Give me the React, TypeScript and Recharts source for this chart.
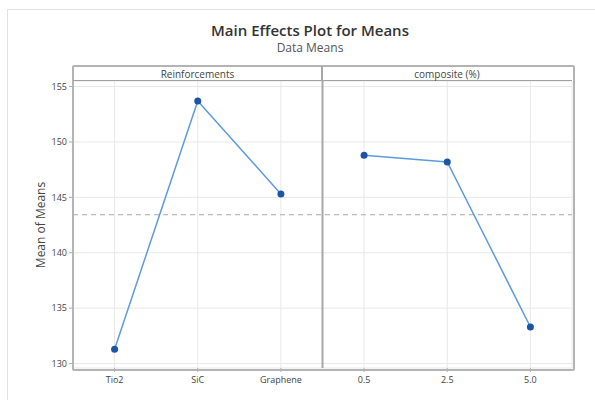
import { CartesianGrid, Line, LineChart, ReferenceLine, XAxis, YAxis } from 'recharts'

const categories = ['Tio2', 'SiC', 'Graphene', '0.5', '2.5', '5.0']
const reinforcementMeans = [131.3, 153.7, 145.3]
const compositeMeans = [148.8, 148.2, 133.3]
const yTicks = [130, 135, 140, 145, 150, 155]
const overallMean = 143.43

const data = categories.map((label, index) => ({
  x: index,
  label,
  reinforcements: index < 3 ? reinforcementMeans[index] : null,
  composite: index >= 3 ? compositeMeans[index - 3] : null,
}))

const font = '"Open Sans", "Noto Sans", sans-serif'
const lineColor = '#5f9bdc'
const dotColor = '#1c55a6'

export default function App() {
  return (
    <div
      style={{
        position: 'absolute',
        left: 0,
        top: 0,
        width: 595,
        height: 400,
        background: '#fff',
        overflow: 'hidden',
        fontFamily: font,
      }}
    >
      <div
        style={{
          position: 'absolute',
          left: 7,
          top: 9,
          width: 620,
          height: 420,
          border: '1px solid #e2e2e2',
        }}
      />
      <div
        style={{
          position: 'absolute',
          left: 0,
          width: 620,
          top: 20,
          textAlign: 'center',
          fontSize: 15,
          fontWeight: 600,
          color: '#333',
        }}
      >
        Main Effects Plot for Means
      </div>
      <div
        style={{
          position: 'absolute',
          left: 0,
          width: 620,
          top: 39,
          textAlign: 'center',
          fontSize: 12,
          color: '#555',
        }}
      >
        Data Means
      </div>

      <LineChart
        width={595}
        height={400}
        data={data}
        margin={{ top: 81, right: 23, bottom: 2, left: 0 }}
        style={{ position: 'absolute', left: 0, top: 0 }}
      >
        <CartesianGrid stroke="#e8e8e8" strokeWidth={1} />
        <XAxis
          dataKey="x"
          type="number"
          height={30}
          domain={[-0.5, 5.5]}
          ticks={[0, 1, 2, 3, 4, 5]}
          tickFormatter={(value: number) => categories[value]}
          tick={{ fontSize: 9, fill: '#444', fontFamily: font, dy: 3 }}
          tickLine={{ stroke: '#aaa' }}
          tickSize={4}
          axisLine={false}
        />
        <YAxis
          type="number"
          width={73}
          domain={[129.6, 155.5]}
          ticks={yTicks}
          allowDataOverflow
          tick={{ fontSize: 9, fill: '#444', fontFamily: font }}
          tickLine={{ stroke: '#aaa' }}
          tickSize={4}
          axisLine={false}
        />
        <ReferenceLine
          y={overallMean}
          stroke="#aaa"
          strokeDasharray="5 4"
          strokeWidth={1}
        />
        <ReferenceLine x={2.5} stroke="#a8a8a8" strokeWidth={2} />
        <Line
          dataKey="reinforcements"
          stroke={lineColor}
          strokeWidth={1.5}
          dot={{ r: 3.5, fill: dotColor, stroke: dotColor, strokeWidth: 0 }}
          isAnimationActive={false}
        />
        <Line
          dataKey="composite"
          stroke={lineColor}
          strokeWidth={1.5}
          dot={{ r: 3.5, fill: dotColor, stroke: dotColor, strokeWidth: 0 }}
          isAnimationActive={false}
        />
      </LineChart>

      {/* plot frame */}
      <div
        style={{
          position: 'absolute',
          left: 72,
          top: 65,
          width: 499,
          height: 302,
          border: '2px solid #b4b4b4',
          borderRadius: 2,
          pointerEvents: 'none',
        }}
      />
      {/* panel header strip */}
      <div
        style={{
          position: 'absolute',
          left: 73,
          top: 80,
          width: 499,
          height: 0,
          borderTop: '1.5px solid #a0a0a0',
        }}
      />
      <div
        style={{
          position: 'absolute',
          left: 73,
          top: 67,
          width: 249,
          textAlign: 'center',
          fontSize: 10,
          color: '#444',
        }}
      >
        Reinforcements
      </div>
      <div
        style={{
          position: 'absolute',
          left: 322,
          top: 67,
          width: 250,
          textAlign: 'center',
          fontSize: 10,
          color: '#444',
        }}
      >
        composite (%)
      </div>
      <div
        style={{
          position: 'absolute',
          left: 321,
          top: 66,
          width: 0,
          height: 15,
          borderLeft: '2px solid #a8a8a8',
        }}
      />
      <div
        style={{
          position: 'absolute',
          left: 40,
          top: 225,
          transform: 'translate(-50%, -50%) rotate(-90deg)',
          whiteSpace: 'nowrap',
          fontSize: 12,
          color: '#444',
        }}
      >
        Mean of Means
      </div>
    </div>
  )
}
